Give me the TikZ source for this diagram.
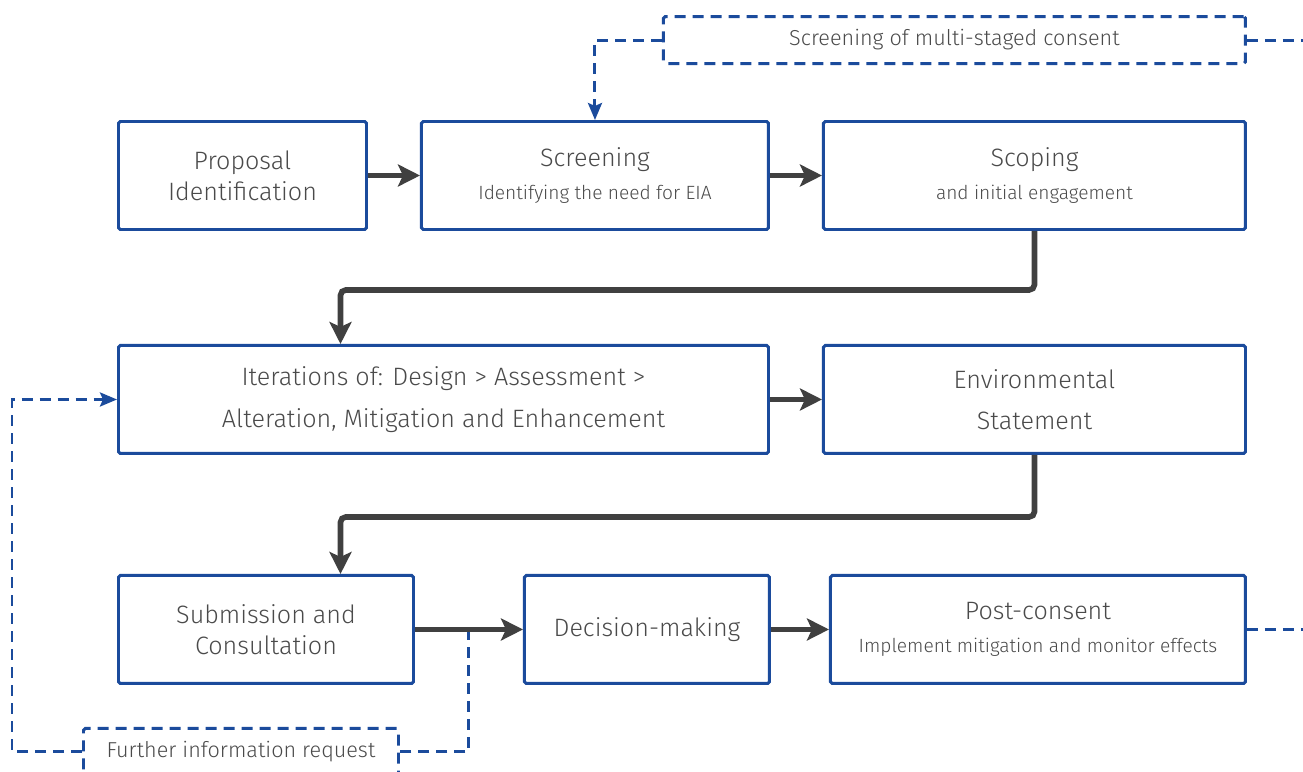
\documentclass[tikz,border=0pt]{standalone}
\usepackage{fontspec}
\setmainfont{Fira Sans Light}
\usepackage{tikz}
\usetikzlibrary{positioning}
\usetikzlibrary{arrows.meta}
\usetikzlibrary{calc}

\definecolor{eiablue}{HTML}{1B4B9C}
\definecolor{eiagrey}{HTML}{404040}
\definecolor{eiatext}{HTML}{4A4A4A}

\newcommand{\eiasub}[1]{{\fontsize{10.9}{12}\selectfont #1}}

\begin{document}
\begin{tikzpicture}[box/.style={draw=eiablue, line width=1.7pt, rounded corners=1pt, minimum height=2.16cm, align=center, text=eiatext, font=\fontsize{14.3}{17.5}\selectfont, inner sep=0pt},
	flow/.style={draw=eiagrey, line width=3.2pt, rounded corners=3pt, -{Stealth[length=0.44cm, width=0.44cm, inset=0.1cm]}},
	dashbox/.style={draw=eiablue, line width=1.7pt, dash pattern=on 0.22cm off 0.14cm, rounded corners=1pt, minimum height=0.94cm, text=eiatext, font=\fontsize{12.3}{14}\selectfont, inner sep=0pt},
	dashline/.style={draw=eiablue, line width=1.7pt, dash pattern=on 0.22cm off 0.14cm},
	dasharrow/.style={dashline, -{Stealth[length=0.34cm, width=0.28cm, inset=0.06cm]}}]
	\useasboundingbox (0,0) rectangle (26.06,-15.44);
	\clip (0,0) rectangle (26.06,-15.44);

	\node [box, minimum width=4.96cm, anchor=north west] (prop) at (2.34,-2.4) {Proposal\\Identification};
	\node [box, minimum width=6.94cm, right=1.04cm of prop] (scr) {Screening\\[1pt]\eiasub{Identifying the need for EIA}};
	\node [box, minimum width=8.44cm, right=1.04cm of scr] (scop) {Scoping\\[1pt]\eiasub{and initial engagement}};

	\node [box, minimum width=13cm, below=2.26cm of prop.south west, anchor=north west] (iter) {Iterations of: Design > Assessment >\\[6pt]Alteration, Mitigation and Enhancement};
	\node [box, minimum width=8.44cm, right=1.04cm of iter] (env) {Environmental\\[6pt]Statement};

	\node [box, minimum width=5.9cm, below=2.38cm of iter.south west, anchor=north west] (sub) {Submission and\\Consultation};
	\node [box, minimum width=4.9cm, right=2.16cm of sub] (dec) {Decision-making};
	\node [box, minimum width=8.3cm, right=1.16cm of dec] (post) {Post-consent\\[1pt]\eiasub{Implement mitigation and monitor effects}};

	\node [dashbox, minimum width=11.64cm, above=1.1cm of scop.north east, anchor=south east] (multi) {Screening of multi-staged consent};
	\node [dashbox, minimum width=6.3cm, below=0.84cm of sub.south west, anchor=north west, xshift=-0.7cm] (fir) {Further information request};

	\coordinate (tap) at ($(sub.east)!0.5!(dec.west)$);

	\draw[dasharrow] (multi.west) -| (scr.north);
	\draw[dashline] (multi.east) -- ++(1.6,0);
	\draw[dashline] (post.east) -- ++(1.6,0);
	\draw[dashline] (tap) |- (fir.east);
	\draw[dasharrow] (fir.west) -- ++(-1.4,0) |- (iter.west);

	\draw[flow] (prop) -- (scr);
	\draw[flow] (scr) -- (scop);
	\draw[flow] (scop.south) -- ++(0,-1.18) -| ([xshift=-2.06cm]iter.north);
	\draw[flow] (iter) -- (env);
	\draw[flow] (env.south) -- ++(0,-1.24) -| ([xshift=1.49cm]sub.north);
	\draw[flow] (sub) -- (dec);
	\draw[flow] (dec) -- (post);
\end{tikzpicture}
\end{document}
